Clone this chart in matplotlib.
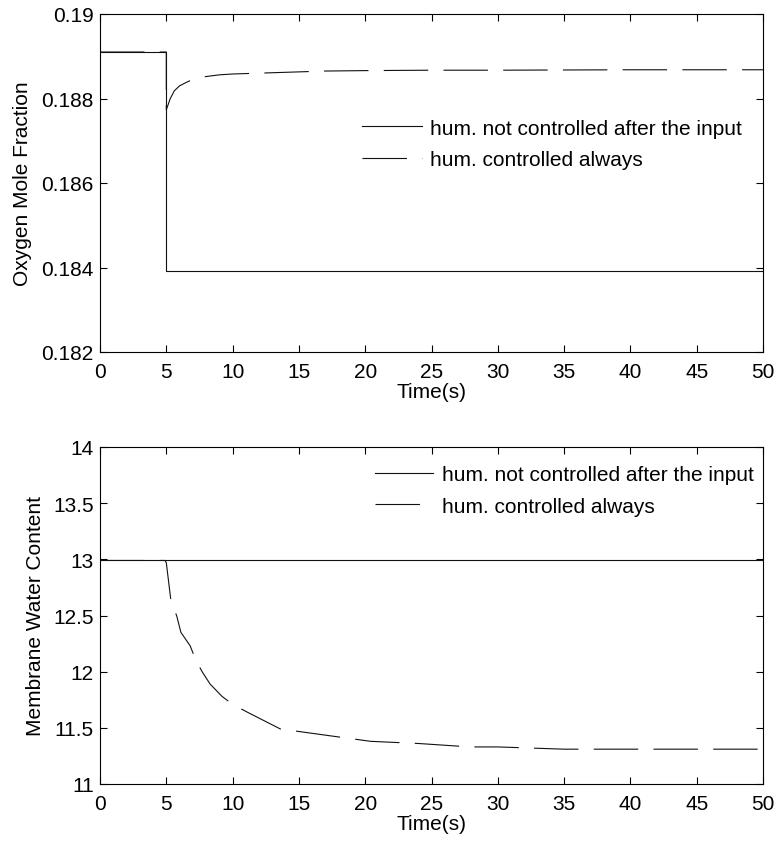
import matplotlib
matplotlib.use("Agg")
import matplotlib.pyplot as plt
from matplotlib.ticker import FormatStrFormatter, MultipleLocator

plt.rcParams['font.family'] = ['Liberation Sans', 'DejaVu Sans']
plt.rcParams['lines.scale_dashes'] = False

# Oxygen mole fraction
t_o2_nc = [0, 5, 5, 50]
o2_not_controlled = [0.18910, 0.18910, 0.18392, 0.18392]

t_o2_c = [0, 5, 5, 5.3, 5.6, 6.0, 6.5, 7.0, 8.0, 9.0, 10.0, 12.0, 14.0, 17.0, 20.0, 25.0, 30.0, 40.0, 50.0]
o2_controlled = [0.18910, 0.18910, 0.18773, 0.18800, 0.18818, 0.18830, 0.18838, 0.18845,
                 0.18852, 0.18856, 0.18858, 0.18860, 0.18862, 0.18865, 0.18866, 0.18867,
                 0.18867, 0.18868, 0.18868]

# Membrane water content
t_w_nc = [0, 50]
w_not_controlled = [12.99, 12.99]

t_w_c = [0, 4.9, 5.0, 5.33, 5.8, 6.1, 6.8, 7.2, 7.7, 8.3, 9.2, 10.0, 11.1, 13.6, 17.3,
         20.4, 24.1, 27.9, 30.0, 35.0, 40.0, 50.0]
w_controlled = [12.99, 12.99, 12.97, 12.65, 12.49, 12.35, 12.23, 12.11, 12.00, 11.89, 11.78,
                11.71, 11.64, 11.49, 11.43, 11.38, 11.36, 11.33, 11.33, 11.31, 11.31, 11.31]

labels = ['hum. not controlled after the input', 'hum. controlled always']

W, H = 779, 845
fig = plt.figure(figsize=(W / 100, H / 100), dpi=100)

def axes_px(left, top, right, bottom):
    return fig.add_axes([left / W, 1 - bottom / H, (right - left) / W, (bottom - top) / H])

ax1 = axes_px(100, 15, 763, 353)
ax2 = axes_px(100, 448, 763, 785)

dash = (0, (32, 11))
lc = '#111111'
fs = 15

for ax in (ax1, ax2):
    for s in ax.spines.values():
        s.set_linewidth(0.8)
    ax.tick_params(direction='in', length=5, width=0.8, top=True, right=True, labelsize=fs)
    ax.tick_params(axis='x', pad=7)
    ax.tick_params(axis='y', pad=4.5)
    ax.set_xlim(0, 50)
    ax.xaxis.set_major_locator(MultipleLocator(5))
    ax.set_xlabel('Time(s)', fontsize=fs, labelpad=1)

ax1.plot(t_o2_nc, o2_not_controlled, color=lc, lw=0.8, label=labels[0])
ax1.plot(t_o2_c, o2_controlled, color=lc, lw=0.8, linestyle=dash, label=labels[1])
ax1.set_ylim(0.182, 0.19)
ax1.yaxis.set_major_locator(MultipleLocator(0.002))
ax1.yaxis.set_major_formatter(FormatStrFormatter('%g'))
ax1.set_ylabel('Oxygen Mole Fraction', fontsize=fs, labelpad=7)
ax1.legend(loc='upper left', bbox_to_anchor=(0.395, 0.69), frameon=False, fontsize=fs,
           borderpad=0, borderaxespad=0, handlelength=2.87, handletextpad=0.4,
           labelspacing=0.6)

ax2.plot(t_w_nc, w_not_controlled, color=lc, lw=0.8, label=labels[0])
ax2.plot(t_w_c, w_controlled, color=lc, lw=0.8, linestyle=dash, label=labels[1])
ax2.set_ylim(11, 14)
ax2.yaxis.set_major_locator(MultipleLocator(0.5))
ax2.yaxis.set_major_formatter(FormatStrFormatter('%g'))
ax2.set_ylabel('Membrane Water Content', fontsize=fs, labelpad=6)
ax2.legend(loc='upper left', bbox_to_anchor=(0.415, 0.946), frameon=False, fontsize=fs,
           borderpad=0, borderaxespad=0, handlelength=2.8, handletextpad=0.4,
           labelspacing=0.6)

fig.savefig('out.png', dpi=100)
